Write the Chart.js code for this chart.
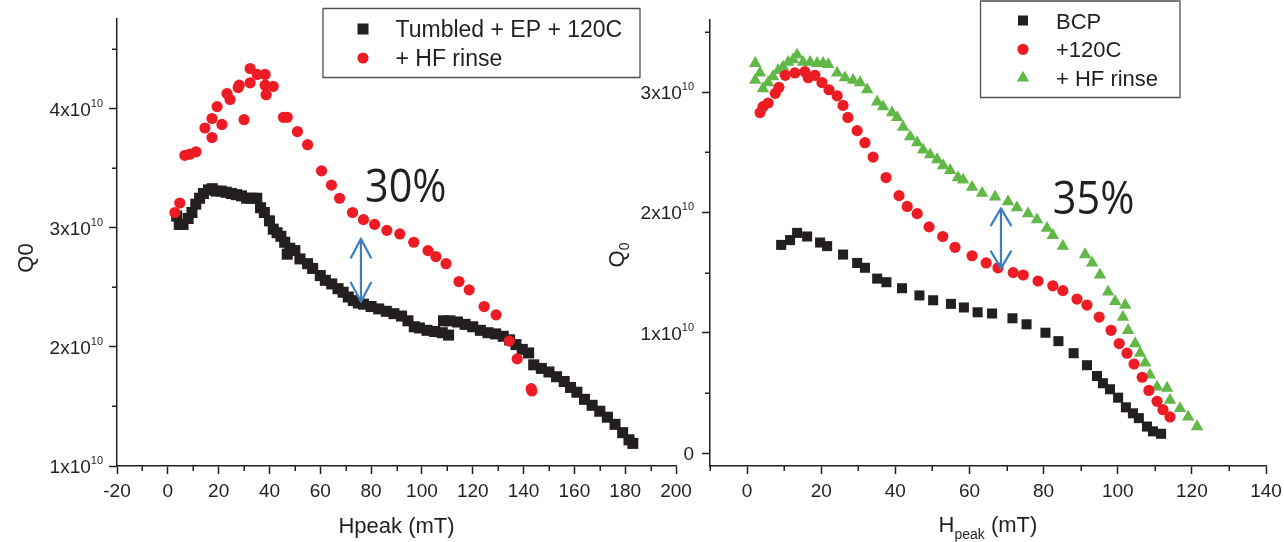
<!DOCTYPE html>
<html><head><meta charset="utf-8">
<script src="https://cdn.jsdelivr.net/npm/chart.js@4.4.1/dist/chart.umd.min.js"></script>
<style>
html,body{margin:0;padding:0;background:#fff;}
#wrap{position:relative;width:1284px;height:542px;overflow:hidden;background:#fff}
canvas{position:absolute;top:0}
</style></head><body>
<div id="wrap">
<canvas id="cLeft" width="700" height="542" style="left:0;width:700px;height:542px"></canvas>
<canvas id="cRight" width="684" height="542" style="left:600px;width:684px;height:542px"></canvas>
</div>
<script>
// ---------- Left panel data (Q0 in units of 1e10, Hpeak in mT) ----------
const tumbledH = [3.5,4.5,6,8,9.5,11,12.5,14,16,17.5,19,21,23,25,27,29,31,33,35,36.5,38,40,41.5,43,44.5,46,47,48,50,52,55,57,60,62,64.5,67,69,71,73,75,77,80,83,86,89,92,94.5,97,99,102,105,108,110.5,108.5,111,114,117,120,123,126,129,132,134.5,137,139.5,142,144,147,150,153,156,158.5,161,164,167,170,173,176,179,181.5,183];
const tumbledQ = [3.10,3.03,3.03,3.08,3.13,3.20,3.25,3.29,3.32,3.33,3.31,3.31,3.30,3.29,3.28,3.27,3.25,3.25,3.25,3.17,3.13,3.06,2.99,2.96,2.93,2.88,2.78,2.83,2.81,2.74,2.70,2.66,2.60,2.56,2.53,2.49,2.46,2.42,2.39,2.37,2.36,2.34,2.32,2.30,2.28,2.26,2.22,2.17,2.16,2.14,2.13,2.12,2.10,2.22,2.22,2.21,2.19,2.17,2.14,2.12,2.11,2.09,2.06,2.02,1.98,1.95,1.85,1.82,1.79,1.75,1.71,1.66,1.62,1.56,1.51,1.46,1.41,1.35,1.28,1.22,1.19];
const hfRinseH = [2.8,4.7,6.7,8.7,11.1,14.6,17.4,17.4,19.4,21.3,23.3,24.5,27.7,28.1,30,32.4,32.4,35.2,38.3,38.3,38.7,41.5,45.5,47,51,55,60.5,64.4,67.6,72.7,77,81.4,86.2,91.3,96.8,102.4,105.5,109.5,114.6,118.6,124.5,129.2,134.4,137.5,143,143.3];
const hfRinseQ = [3.13,3.21,3.61,3.62,3.64,3.84,3.92,3.76,4.02,3.87,4.13,4.08,4.18,4.20,3.91,4.22,4.34,4.29,4.29,4.20,4.12,4.19,3.93,3.93,3.81,3.70,3.48,3.36,3.25,3.13,3.07,3.03,2.98,2.95,2.88,2.81,2.76,2.70,2.55,2.48,2.34,2.27,2.05,1.90,1.65,1.63];

// ---------- Right panel data ----------
const bcpH = [9.2,11.6,13.5,16.2,19.7,21.6,25.9,29.7,31.8,35.1,37.6,41.8,46.5,50.2,55.0,58.5,62.2,66.1,71.6,75.4,80.5,84.0,88.1,91.7,94.4,96.0,97.9,100.1,102.2,104.1,105.7,107.9,109.5,111.7];
const bcpQ = [1.73,1.77,1.83,1.80,1.75,1.72,1.65,1.58,1.54,1.45,1.42,1.37,1.31,1.27,1.24,1.21,1.17,1.16,1.12,1.07,1.00,0.93,0.83,0.73,0.64,0.58,0.53,0.46,0.38,0.33,0.29,0.22,0.18,0.16];
const bake120H = [3.5,4.3,5.7,7.6,8.6,10.3,12.9,15.6,16.5,18.3,20.2,22.1,24.3,25.9,27.2,29.7,31.8,34.0,37.5,41.0,43.2,45.9,49.1,52.8,56.1,60.7,64.5,67.7,71.8,74.5,78.5,82.5,85.2,89.0,91.7,95.0,98.2,100.4,102.5,104.4,106.6,108.4,110.6,112.2,114.1];
const bake120Q = [2.83,2.88,2.91,2.99,3.04,3.14,3.16,3.17,3.12,3.14,3.08,3.02,2.97,2.89,2.79,2.68,2.58,2.46,2.29,2.14,2.05,1.99,1.88,1.80,1.71,1.64,1.58,1.54,1.50,1.48,1.43,1.39,1.35,1.28,1.23,1.13,1.02,0.91,0.83,0.74,0.63,0.52,0.43,0.36,0.30];
const hfH = [2.2,2.2,3.5,4.3,5.7,7.0,8.4,9.7,11.1,12.4,13.5,15.1,17.0,18.9,20.5,21.9,24.3,26.4,28.6,30.5,32.4,35.1,36.7,39.1,40.5,42.1,44.0,45.9,47.5,49.4,51.3,52.9,54.8,56.9,58.3,60.7,63.4,66.9,70.4,72.8,75.8,78.2,80.9,82.5,85.2,91.2,93.1,95.2,97.4,99.3,102.0,101.4,102.8,104.7,106.0,107.4,108.7,110.6,113.3,114.1,116.8,119.0,121.4];
const hfQ = [3.24,3.10,3.16,3.03,3.08,3.13,3.18,3.21,3.25,3.27,3.31,3.25,3.25,3.24,3.24,3.23,3.16,3.12,3.10,3.08,3.02,2.92,2.88,2.83,2.79,2.71,2.63,2.58,2.52,2.48,2.44,2.39,2.35,2.29,2.27,2.21,2.16,2.13,2.09,2.04,1.99,1.94,1.87,1.81,1.72,1.65,1.58,1.48,1.34,1.26,1.23,1.13,1.02,0.91,0.83,0.75,0.65,0.55,0.54,0.44,0.37,0.30,0.22];

// labels / annotations
const leftLegend = ['Tumbled + EP + 120C', '+ HF rinse'];
const rightLegend = ['BCP', '+120C', '+ HF rinse'];
const leftNote = {text:'30%', x:77.6, y:3.22, arrowX:76, arrowTop:2.91, arrowBottom:2.38};
const rightNote = {text:'35%', x:82.5, y:1.99, arrowX:68.5, arrowTop:2.034, arrowBottom:1.535};

const INK = '#231f20', RED = '#ed1c24', GREEN = '#62b847', BLUE = '#3d7ec2';
const FONT = '"Liberation Sans", Arial, sans-serif';

function pts(xs, ys){ return xs.map((x,i)=>({x:x, y:ys[i]})); }

function drawMarker(ctx, style, r, x, y, color){
  ctx.save(); ctx.fillStyle = color;
  if (Chart.helpers && Chart.helpers.drawPoint) {
    Chart.helpers.drawPoint(ctx, {pointStyle:style, radius:r, rotation:0, borderWidth:0}, x, y);
  } else {
    ctx.beginPath();
    if (style==='rect'){ const s=r*Math.SQRT1_2; ctx.rect(x-s,y-s,2*s,2*s);} 
    else if (style==='triangle'){ ctx.moveTo(x,y-r); ctx.lineTo(x+r*0.866,y+r/2); ctx.lineTo(x-r*0.866,y+r/2); ctx.closePath(); }
    else ctx.arc(x,y,r,0,Math.PI*2);
    ctx.fill();
  }
  ctx.restore();
}

function makeDecor(c){
  return {
    id:'decor',
    afterDraw(chart){
      const ctx = chart.ctx, ca = chart.chartArea, xs = chart.scales.x, ys = chart.scales.y;
      ctx.save();
      // minor ticks
      ctx.strokeStyle = INK; ctx.lineWidth = 1.5; ctx.beginPath();
      for (let v = xs.min; v <= xs.max + 1e-9; v += c.xMinor){
        if (Math.abs(v % c.xStep) < 1e-9) continue;
        const px = Math.round(xs.getPixelForValue(v)) + 0.25;
        ctx.moveTo(px, ca.bottom); ctx.lineTo(px, ca.bottom + 5);
      }
      for (let v = Math.ceil(ys.min / c.yMinor) * c.yMinor; v <= ys.max + 1e-9; v += c.yMinor){
        if (Math.abs(v - Math.round(v)) < 1e-9) continue;
        const py = Math.round(ys.getPixelForValue(v)) + 0.25;
        ctx.moveTo(ca.left, py); ctx.lineTo(ca.left - 5, py);
      }
      ctx.stroke();
      // x tick labels
      ctx.fillStyle = INK; ctx.font = '19px ' + FONT; ctx.textAlign = 'center'; ctx.textBaseline = 'alphabetic';
      xs.ticks.forEach(t => { ctx.fillText(String(t.value), xs.getPixelForValue(t.value), ca.bottom + 31); });
      // y tick labels with superscript exponent
      ys.ticks.forEach(t => {
        const py = ys.getPixelForValue(t.value);
        ctx.textAlign = 'right';
        if (t.value === 0){ ctx.font = '19px ' + FONT; ctx.fillText('0', c.yLabelRight, py + 7); return; }
        ctx.font = '11px ' + FONT; const sw = ctx.measureText('10').width;
        ctx.fillText('10', c.yLabelRight, py - 2);
        ctx.font = '19px ' + FONT; ctx.fillText(t.value + 'x10', c.yLabelRight - sw, py + 7);
      });
      // x title
      const cx = (ca.left + ca.right) / 2;
      ctx.textAlign = 'left';
      if (c.sub){
        ctx.font = '22px ' + FONT; const w1 = ctx.measureText('H').width, w3 = ctx.measureText(' (mT)').width;
        ctx.font = '14px ' + FONT; const w2 = ctx.measureText('peak').width;
        let x0 = cx - (w1 + w2 + w3) / 2;
        ctx.font = '22px ' + FONT; ctx.fillText('H', x0, 532);
        ctx.font = '14px ' + FONT; ctx.fillText('peak', x0 + w1, 539);
        ctx.font = '22px ' + FONT; ctx.fillText(' (mT)', x0 + w1 + w2, 532);
      } else {
        ctx.font = '22px ' + FONT; ctx.textAlign = 'center'; ctx.fillText('Hpeak (mT)', cx, 533);
      }
      // y title (rotated)
      ctx.save(); ctx.translate(c.yTitleX, c.yTitleY); ctx.rotate(-Math.PI/2);
      if (c.sub){
        ctx.font = '22px ' + FONT; const wq = ctx.measureText('Q').width;
        ctx.font = '14px ' + FONT; const w0 = ctx.measureText('0').width;
        const x0 = -(wq + w0) / 2; ctx.textAlign = 'left';
        ctx.font = '22px ' + FONT; ctx.fillText('Q', x0, 8);
        ctx.font = '14px ' + FONT; ctx.fillText('0', x0 + wq, 13);
      } else {
        ctx.font = '22px ' + FONT; ctx.textAlign = 'center'; ctx.fillText('Q0', 0, 8);
      }
      ctx.restore();
      // annotation text
      const n = c.note;
      ctx.save(); ctx.translate(xs.getPixelForValue(n.x), ys.getPixelForValue(n.y)); ctx.scale(0.9, 1);
      ctx.font = '46px "Open Sans", "Noto Sans", sans-serif'; ctx.textAlign = 'left'; ctx.fillStyle = INK;
      ctx.fillText(n.text, 0, 0); ctx.restore();
      // double arrow
      const ax = xs.getPixelForValue(n.arrowX), at = ys.getPixelForValue(n.arrowTop), ab = ys.getPixelForValue(n.arrowBottom);
      ctx.strokeStyle = BLUE; ctx.lineWidth = 2.2; ctx.lineCap = 'round'; ctx.lineJoin = 'round';
      ctx.beginPath(); ctx.moveTo(ax, at); ctx.lineTo(ax, ab);
      ctx.moveTo(ax - 10, at + c.head); ctx.lineTo(ax, at); ctx.lineTo(ax + 10, at + c.head);
      ctx.moveTo(ax - 10, ab - c.head); ctx.lineTo(ax, ab); ctx.lineTo(ax + 10, ab - c.head);
      ctx.stroke();
      // legend
      const L = c.legend;
      ctx.fillStyle = '#fff'; ctx.fillRect(L.x, L.y, L.w, L.h);
      ctx.strokeStyle = '#505050'; ctx.lineWidth = 1.3; ctx.strokeRect(L.x, L.y, L.w, L.h);
      chart.data.datasets.forEach((ds, i) => {
        const my = L.rows[i];
        drawMarker(ctx, ds.pointStyle, ds.pointRadius, L.mx, my, ds.backgroundColor);
        ctx.fillStyle = INK; ctx.font = L.font + 'px ' + FONT; ctx.textAlign = 'left';
        ctx.fillText(ds.label, L.tx, my + 8);
      });
      ctx.restore();
    }
  };
}

function build(id, datasets, c){
  return new Chart(document.getElementById(id), {
    type:'scatter',
    data:{datasets},
    options:{
      responsive:false, animation:false, events:[],
      layout:{padding:c.padding},
      plugins:{legend:{display:false}, tooltip:{enabled:false}},
      scales:{
        x:{type:'linear', min:c.xMin, max:c.xMax,
           ticks:{display:false, stepSize:c.xStep, includeBounds:false},
           grid:{display:true, drawOnChartArea:false, drawTicks:true, tickLength:8, tickColor:INK, tickWidth:1.5},
           border:{display:true, color:INK, width:1.5},
           afterFit(s){ s.height = c.xHeight; }},
        y:{type:'linear', min:c.yMin, max:c.yMax,
           ticks:{display:false, stepSize:c.yStep, includeBounds:false},
           grid:{display:true, drawOnChartArea:false, drawTicks:true, tickLength:8, tickColor:INK, tickWidth:1.5},
           border:{display:true, color:INK, width:1.5},
           afterFit(s){ s.width = c.yWidth; }}
      }
    },
    plugins:[makeDecor(c)]
  });
}

build('cLeft', [
  {label:leftLegend[0], data:pts(tumbledH, tumbledQ), pointStyle:'rect', pointRadius:7.8, backgroundColor:INK, borderWidth:0, order:2},
  {label:leftLegend[1], data:pts(hfRinseH, hfRinseQ), pointStyle:'circle', pointRadius:5.6, backgroundColor:RED, borderWidth:0, order:1}
], {
  xMin:-20, xMax:200, xStep:20, xMinor:10, yMin:1, yMax:4.756, yStep:1, yMinor:0.5,
  padding:{top:19, right:24, left:0, bottom:0}, yWidth:117, xHeight:76,
  yLabelRight:103, yTitleX:25, yTitleY:258, sub:false, head:19, note:leftNote,
  legend:{x:323, y:8.5, w:317, h:69, mx:363, tx:395.5, rows:[29, 58], font:23}
});

build('cRight', [
  {label:rightLegend[0], data:pts(bcpH, bcpQ), pointStyle:'rect', pointRadius:7.1, backgroundColor:INK, borderWidth:0, order:3},
  {label:rightLegend[1], data:pts(bake120H, bake120Q), pointStyle:'circle', pointRadius:5.6, backgroundColor:RED, borderWidth:0, order:1},
  {label:rightLegend[2], data:pts(hfH, hfQ), pointStyle:'triangle', pointRadius:7.2, backgroundColor:GREEN, borderWidth:0, order:2}
], {
  xMin:-10, xMax:140, xStep:20, xMinor:10, yMin:-0.108, yMax:3.60, yStep:1, yMinor:0.5,
  padding:{top:20, right:18, left:0, bottom:0}, yWidth:110, xHeight:76,
  yLabelRight:94, yTitleX:16, yTitleY:255, sub:true, head:17, note:rightNote,
  legend:{x:380.5, y:1, w:199.5, h:96.5, mx:423, tx:456, rows:[20.5, 49.3, 78], font:22}
});
</script>
</body></html>
